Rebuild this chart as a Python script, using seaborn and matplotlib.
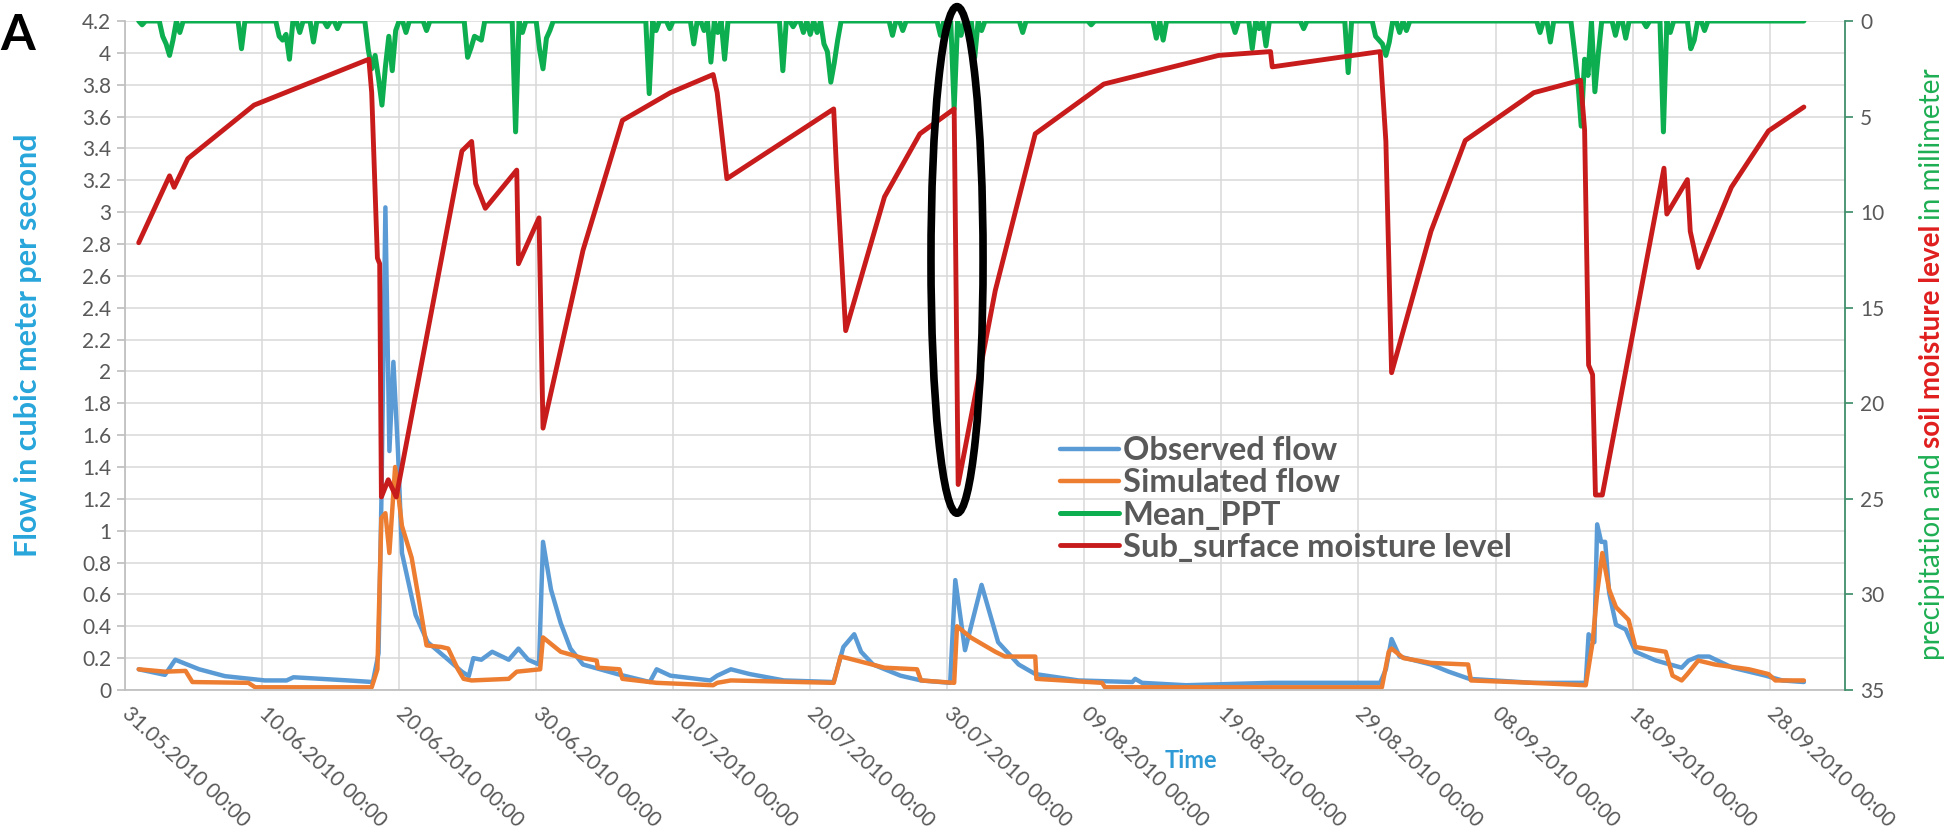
import matplotlib
matplotlib.use("Agg")
import matplotlib.pyplot as plt
import matplotlib.dates as mdates
import matplotlib.transforms as mtransforms
from matplotlib.patches import Ellipse
import pandas as pd
import seaborn as sns

# Observed flow (m3/s)
obs_times = [
    "2010-06-01 00:00", "2010-06-02 22:00", "2010-06-03 16:00", "2010-06-05 10:00", "2010-06-07 07:00",
    "2010-06-10 05:00", "2010-06-11 19:00", "2010-06-12 07:00", "2010-06-16 07:00", "2010-06-18 02:00",
    "2010-06-18 12:00", "2010-06-18 17:00", "2010-06-19 00:00", "2010-06-19 07:00", "2010-06-19 14:00",
    "2010-06-19 22:00", "2010-06-20 05:00", "2010-06-21 05:00", "2010-06-22 02:00", "2010-06-23 14:00",
    "2010-06-24 14:00", "2010-06-25 02:00", "2010-06-25 10:00", "2010-06-26 00:00", "2010-06-26 19:00",
    "2010-06-28 00:00", "2010-06-28 17:00", "2010-06-29 10:00", "2010-06-30 05:00", "2010-06-30 12:00",
    "2010-07-01 02:00", "2010-07-01 19:00", "2010-07-02 12:00", "2010-07-03 10:00", "2010-07-05 22:00",
    "2010-07-08 07:00", "2010-07-08 19:00", "2010-07-09 19:00", "2010-07-12 17:00", "2010-07-13 05:00",
    "2010-07-14 05:00", "2010-07-15 14:00", "2010-07-18 02:00", "2010-07-21 17:00", "2010-07-22 10:00",
    "2010-07-23 05:00", "2010-07-23 17:00", "2010-07-24 14:00", "2010-07-26 14:00", "2010-07-28 02:00",
    "2010-07-30 05:00", "2010-07-30 14:00", "2010-07-31 07:00", "2010-08-01 12:00", "2010-08-02 17:00",
    "2010-08-04 05:00", "2010-08-05 10:00", "2010-08-08 14:00", "2010-08-12 12:00", "2010-08-12 17:00",
    "2010-08-13 05:00", "2010-08-16 10:00", "2010-08-22 17:00", "2010-08-30 14:00", "2010-08-31 00:00",
    "2010-08-31 10:00", "2010-09-01 00:00", "2010-09-03 07:00", "2010-09-04 14:00", "2010-09-06 02:00",
    "2010-09-10 17:00", "2010-09-14 14:00", "2010-09-14 19:00", "2010-09-15 05:00", "2010-09-15 10:00",
    "2010-09-15 17:00", "2010-09-16 00:00", "2010-09-16 07:00", "2010-09-16 19:00", "2010-09-17 12:00",
    "2010-09-18 05:00", "2010-09-19 17:00", "2010-09-21 14:00", "2010-09-22 02:00", "2010-09-22 19:00",
    "2010-09-23 14:00", "2010-09-25 07:00", "2010-09-27 17:00", "2010-09-28 22:00", "2010-09-30 12:00",
]
obs_flow = [
    0.13, 0.095, 0.19, 0.13, 0.087,
    0.06, 0.06, 0.08, 0.06, 0.05,
    0.23, 1.19, 3.03, 1.50, 2.06,
    1.50, 0.86, 0.47, 0.30, 0.19,
    0.115, 0.087, 0.20, 0.19, 0.24,
    0.19, 0.26, 0.19, 0.16, 0.93,
    0.63, 0.42, 0.26, 0.16, 0.10,
    0.05, 0.13, 0.09, 0.06, 0.09,
    0.13, 0.10, 0.06, 0.05, 0.27,
    0.35, 0.24, 0.16, 0.09, 0.06,
    0.045, 0.69, 0.25, 0.66, 0.30,
    0.16, 0.10, 0.06, 0.05, 0.07,
    0.045, 0.03, 0.045, 0.045, 0.13,
    0.32, 0.21, 0.16, 0.115, 0.07,
    0.045, 0.045, 0.35, 0.30, 1.04,
    0.93, 0.93, 0.61, 0.41, 0.38,
    0.24, 0.185, 0.14, 0.185, 0.21,
    0.21, 0.14, 0.09, 0.06, 0.05,
]

# Simulated flow (m3/s)
sim_times = [
    "2010-06-01 00:00", "2010-06-02 22:00", "2010-06-04 10:00", "2010-06-04 22:00", "2010-06-09 00:00",
    "2010-06-09 12:00", "2010-06-18 00:00", "2010-06-18 10:00", "2010-06-18 17:00", "2010-06-19 00:00",
    "2010-06-19 07:00", "2010-06-19 17:00", "2010-06-20 05:00", "2010-06-20 22:00", "2010-06-21 10:00",
    "2010-06-22 00:00", "2010-06-23 02:00", "2010-06-23 14:00", "2010-06-24 07:00", "2010-06-24 17:00",
    "2010-06-25 07:00", "2010-06-28 00:00", "2010-06-28 14:00", "2010-06-30 07:00", "2010-06-30 12:00",
    "2010-07-01 19:00", "2010-07-03 10:00", "2010-07-04 10:00", "2010-07-04 12:00", "2010-07-06 02:00",
    "2010-07-06 07:00", "2010-07-08 19:00", "2010-07-12 22:00", "2010-07-13 05:00", "2010-07-14 05:00",
    "2010-07-21 17:00", "2010-07-22 05:00", "2010-07-22 17:00", "2010-07-25 10:00", "2010-07-27 19:00",
    "2010-07-28 02:00", "2010-07-30 12:00", "2010-07-30 17:00", "2010-07-31 17:00", "2010-08-02 12:00",
    "2010-08-03 05:00", "2010-08-05 10:00", "2010-08-05 12:00", "2010-08-10 07:00", "2010-08-10 12:00",
    "2010-08-30 17:00", "2010-08-31 05:00", "2010-08-31 10:00", "2010-09-01 07:00", "2010-09-03 07:00",
    "2010-09-06 00:00", "2010-09-06 05:00", "2010-09-10 17:00", "2010-09-14 14:00", "2010-09-15 02:00",
    "2010-09-15 10:00", "2010-09-15 19:00", "2010-09-16 07:00", "2010-09-16 19:00", "2010-09-17 17:00",
    "2010-09-18 05:00", "2010-09-20 10:00", "2010-09-20 22:00", "2010-09-21 14:00", "2010-09-22 00:00",
    "2010-09-22 19:00", "2010-09-24 00:00", "2010-09-26 12:00", "2010-09-27 22:00", "2010-09-28 10:00",
    "2010-09-30 12:00",
]
sim_flow = [
    0.13, 0.115, 0.12, 0.05, 0.045,
    0.017, 0.017, 0.13, 1.08, 1.11,
    0.86, 1.40, 1.03, 0.83, 0.58,
    0.28, 0.27, 0.26, 0.13, 0.07,
    0.06, 0.07, 0.115, 0.13, 0.33,
    0.24, 0.20, 0.185, 0.14, 0.13,
    0.07, 0.045, 0.03, 0.045, 0.06,
    0.045, 0.21, 0.20, 0.14, 0.13,
    0.06, 0.045, 0.40, 0.33, 0.24,
    0.21, 0.21, 0.07, 0.045, 0.017,
    0.017, 0.24, 0.26, 0.20, 0.17,
    0.16, 0.06, 0.045, 0.03, 0.30,
    0.61, 0.86, 0.63, 0.52, 0.44,
    0.27, 0.24, 0.09, 0.06, 0.10,
    0.185, 0.16, 0.13, 0.10, 0.06,
    0.06,
]

# Mean precipitation (mm), 6-hourly steps with rain; all other steps are dry
ppt_times = [
    "2010-06-01 06:00", "2010-06-02 18:00", "2010-06-03 00:00", "2010-06-03 06:00", "2010-06-03 12:00",
    "2010-06-04 00:00", "2010-06-08 12:00", "2010-06-11 06:00", "2010-06-11 12:00", "2010-06-11 18:00",
    "2010-06-12 00:00", "2010-06-12 18:00", "2010-06-13 18:00", "2010-06-14 18:00", "2010-06-15 12:00",
    "2010-06-17 18:00", "2010-06-18 00:00", "2010-06-18 06:00", "2010-06-18 12:00", "2010-06-18 18:00",
    "2010-06-19 00:00", "2010-06-19 06:00", "2010-06-19 12:00", "2010-06-19 18:00", "2010-06-20 12:00",
    "2010-06-22 00:00", "2010-06-25 00:00", "2010-06-25 06:00", "2010-06-25 12:00", "2010-06-25 18:00",
    "2010-06-26 00:00", "2010-06-28 12:00", "2010-06-29 00:00", "2010-06-30 06:00", "2010-06-30 12:00",
    "2010-06-30 18:00", "2010-07-01 00:00", "2010-07-08 06:00", "2010-07-08 18:00", "2010-07-09 18:00",
    "2010-07-11 12:00", "2010-07-12 06:00", "2010-07-12 18:00", "2010-07-13 06:00", "2010-07-13 18:00",
    "2010-07-18 00:00", "2010-07-18 18:00", "2010-07-19 12:00", "2010-07-20 00:00", "2010-07-20 12:00",
    "2010-07-21 00:00", "2010-07-21 06:00", "2010-07-21 12:00", "2010-07-21 18:00", "2010-07-22 00:00",
    "2010-07-26 00:00", "2010-07-26 18:00", "2010-07-29 12:00", "2010-07-30 12:00", "2010-07-31 00:00",
    "2010-08-01 00:00", "2010-08-01 12:00", "2010-08-04 12:00", "2010-08-09 12:00", "2010-08-14 06:00",
    "2010-08-14 18:00", "2010-08-20 00:00", "2010-08-21 06:00", "2010-08-21 18:00", "2010-08-22 06:00",
    "2010-08-25 00:00", "2010-08-28 06:00", "2010-08-30 06:00", "2010-08-30 12:00", "2010-08-30 18:00",
    "2010-08-31 00:00", "2010-08-31 06:00", "2010-09-01 00:00", "2010-09-01 12:00", "2010-09-11 06:00",
    "2010-09-12 00:00", "2010-09-13 18:00", "2010-09-14 00:00", "2010-09-14 06:00", "2010-09-14 12:00",
    "2010-09-14 18:00", "2010-09-15 06:00", "2010-09-15 12:00", "2010-09-16 18:00", "2010-09-17 12:00",
    "2010-09-19 00:00", "2010-09-20 06:00", "2010-09-20 18:00", "2010-09-22 06:00", "2010-09-22 12:00",
    "2010-09-23 06:00",
]
ppt_mm = [
    0.2, 0.8, 1.2, 1.8, 1.0,
    0.6, 1.45, 0.8, 1.0, 0.7,
    2.0, 0.6, 1.1, 0.3, 0.4,
    1.5, 2.5, 1.8, 3.0, 4.4,
    2.4, 0.8, 2.6, 0.5, 0.6,
    0.5, 1.9, 1.4, 0.8, 0.9,
    1.0, 5.8, 0.6, 1.5, 2.5,
    0.9, 0.5, 3.8, 0.5, 0.4,
    1.2, 0.5, 2.15, 0.6, 2.0,
    2.6, 0.3, 0.6, 0.7, 0.6,
    1.2, 1.6, 3.2, 2.2, 1.0,
    0.75, 0.5, 0.75, 4.6, 0.75,
    1.9, 0.5, 0.6, 0.2, 0.9,
    1.0, 0.6, 1.45, 0.4, 1.3,
    0.4, 2.7, 0.8, 1.0, 1.2,
    1.8, 1.1, 0.6, 0.5, 0.6,
    1.1, 1.5, 3.1, 5.5, 2.0,
    2.85, 3.7, 1.7, 0.75, 0.9,
    0.3, 5.8, 0.6, 1.45, 1.0,
    0.5,
]
ppt_start, ppt_end = "2010-06-01 00:00", "2010-09-30 12:00"

# Sub-surface moisture level (mm)
moist_times = [
    "2010-06-01 00:00", "2010-06-03 06:00", "2010-06-03 14:00", "2010-06-04 14:00", "2010-06-09 10:00",
    "2010-06-17 19:00", "2010-06-18 00:00", "2010-06-18 10:00", "2010-06-18 14:00", "2010-06-18 17:00",
    "2010-06-19 05:00", "2010-06-19 19:00", "2010-06-24 14:00", "2010-06-25 07:00", "2010-06-25 14:00",
    "2010-06-26 07:00", "2010-06-28 14:00", "2010-06-28 17:00", "2010-06-30 05:00", "2010-06-30 12:00",
    "2010-07-03 10:00", "2010-07-06 07:00", "2010-07-09 19:00", "2010-07-12 22:00", "2010-07-13 05:00",
    "2010-07-13 22:00", "2010-07-21 17:00", "2010-07-21 22:00", "2010-07-22 14:00", "2010-07-25 10:00",
    "2010-07-28 00:00", "2010-07-30 12:00", "2010-07-30 19:00", "2010-08-02 12:00", "2010-08-05 10:00",
    "2010-08-10 10:00", "2010-08-18 19:00", "2010-08-22 14:00", "2010-08-22 17:00", "2010-08-30 14:00",
    "2010-08-31 00:00", "2010-08-31 10:00", "2010-09-03 07:00", "2010-09-05 19:00", "2010-09-10 19:00",
    "2010-09-14 05:00", "2010-09-14 12:00", "2010-09-14 19:00", "2010-09-15 02:00", "2010-09-15 07:00",
    "2010-09-15 19:00", "2010-09-20 07:00", "2010-09-20 12:00", "2010-09-22 00:00", "2010-09-22 05:00",
    "2010-09-22 19:00", "2010-09-25 05:00", "2010-09-27 22:00", "2010-09-30 12:00",
]
moist_mm = [
    11.6, 8.1, 8.7, 7.2, 4.4,
    2.0, 3.75, 12.4, 12.7, 24.9,
    24.0, 24.9, 6.8, 6.3, 8.5,
    9.8, 7.8, 12.7, 10.3, 21.3,
    12.0, 5.2, 3.75, 2.8, 3.75,
    8.25, 4.6, 7.75, 16.2, 9.2,
    5.9, 4.6, 24.25, 14.1, 5.9,
    3.3, 1.8, 1.6, 2.4, 1.6,
    6.3, 18.4, 11.0, 6.25, 3.75,
    3.1, 5.7, 18.0, 18.5, 24.8,
    24.8, 7.7, 10.1, 8.3, 11.0,
    12.9, 8.7, 5.75, 4.5,
]

x_ticks = pd.date_range("2010-05-31", "2010-09-28", freq="10D")
flow_ticks = [round(0.2 * i, 1) for i in range(22)]
mm_ticks = [0, 5, 10, 15, 20, 25, 30, 35]
highlight_time = "2010-07-30 17:00"

OBS_C, SIM_C, PPT_C, RED_C = "#5B9BD5", "#ED7D31", "#0DAE50", "#C81C1C"
TEXT_C, GRID_C, AXIS_C, RAXIS_C = "#595959", "#D9D9D9", "#BFBFBF", "#3F8F6A"

sns.set_theme(style="white")
plt.rcParams["font.family"] = ["Lato", "DejaVu Sans"]

W, H = 1957, 834
fig = plt.figure(figsize=(W / 100, H / 100), dpi=100)
ax = fig.add_axes([125 / W, 1 - 690 / H, (1845 - 125) / W, (690 - 21) / H])
ax2 = ax.twinx()

obs = pd.DataFrame({"time": pd.to_datetime(obs_times), "flow": obs_flow})
sim = pd.DataFrame({"time": pd.to_datetime(sim_times), "flow": sim_flow})
ppt = pd.Series(0.0, index=pd.date_range(ppt_start, ppt_end, freq="6h"))
ppt[pd.to_datetime(ppt_times)] = ppt_mm
ppt = ppt.rename_axis("time").reset_index(name="mm")
moist = pd.DataFrame({"time": pd.to_datetime(moist_times), "mm": moist_mm})

sns.lineplot(data=obs, x="time", y="flow", ax=ax, color=OBS_C, lw=3.2, sort=False)
h_obs = ax.lines[-1]
sns.lineplot(data=sim, x="time", y="flow", ax=ax, color=SIM_C, lw=3.2, sort=False)
h_sim = ax.lines[-1]
sns.lineplot(data=ppt, x="time", y="mm", ax=ax2, color=PPT_C, lw=3.6, sort=False)
h_ppt = ax2.lines[-1]
sns.lineplot(data=moist, x="time", y="mm", ax=ax2, color=RED_C, lw=3.5, sort=False)
h_red = ax2.lines[-1]

ax.set_xlim(pd.Timestamp("2010-05-31"), pd.Timestamp("2010-10-03 12:00"))
ax.set_ylim(0, 4.2)
ax2.set_ylim(35, 0)

ax.set_xticks(x_ticks)
ax.xaxis.set_major_formatter(mdates.DateFormatter("%d.%m.%Y %H:%M"))
ax.set_yticks(flow_ticks)
ax.set_yticklabels([f"{v:g}" for v in flow_ticks])
ax2.set_yticks(mm_ticks)
ax.set_xlabel("")
ax.set_ylabel("")
ax2.set_ylabel("")

ax.grid(True, color=GRID_C, lw=1.1)
ax2.grid(False)
for s in ["top", "right"]:
    ax.spines[s].set_visible(False)
for s in ["top", "left", "bottom"]:
    ax2.spines[s].set_visible(False)
ax.spines["left"].set_color(AXIS_C)
ax.spines["bottom"].set_color(AXIS_C)
ax2.spines["right"].set_color(RAXIS_C)
ax2.spines["right"].set_linewidth(1.3)

ax.tick_params(axis="y", left=True, length=6, color=AXIS_C, labelcolor=TEXT_C, labelsize=15, pad=4)
ax.tick_params(axis="x", bottom=False, labelcolor=TEXT_C, labelsize=15, pad=9)
ax2.tick_params(axis="y", right=True, length=6, color=RAXIS_C, labelcolor=TEXT_C, labelsize=15, pad=5)
for lab in ax.get_xticklabels():
    lab.set_rotation(-43)
    lab.set_ha("left")
    lab.set_va("center")
    lab.set_rotation_mode("anchor")

# highlighted event
ell = Ellipse((mdates.date2num(pd.Timestamp(highlight_time)), 2.70), width=3.8, height=3.18,
              fill=False, ec="black", lw=5.5, transform=ax.transData, clip_on=False, zorder=10)
ax2.add_patch(ell)

ax2.legend([h_obs, h_sim, h_ppt, h_red],
           ["Observed flow", "Simulated flow", "Mean_PPT", "Sub_surface moisture level"],
           loc="upper left", bbox_to_anchor=(1060 / W, 1 - 436 / H), bbox_transform=fig.transFigure,
           frameon=False, prop={"weight": "bold", "size": 23.5}, labelcolor=TEXT_C,
           handlelength=1.8, handletextpad=0.12, labelspacing=0.1, borderpad=0, borderaxespad=0)

fig.text(0.0, 1 - 35 / H, "A", fontsize=36, fontweight="bold", color="black", ha="left", va="center")
fig.text(1191 / W, 1 - 760 / H, "Time", fontsize=17, fontweight="bold", color="#2E9BD6",
         ha="center", va="center")
fig.text(28 / W, 1 - 345 / H, "Flow in cubic meter per second", rotation=90, fontsize=22,
         fontweight="bold", color="#27A5DA", ha="center", va="center")

# right axis title with coloured parts
fig.canvas.draw()
renderer = fig.canvas.get_renderer()
x_base, y_pos = 1940, H - 660
gap = 5
for part, col, weight in [("precipitation and", "#1DAE52", "normal"),
                          ("soil moisture level", "#E01E1E", "bold"),
                          ("in millimeter", "#1DAE52", "normal")]:
    t = fig.text(x_base, y_pos, part, transform=mtransforms.IdentityTransform(), rotation=90,
                 rotation_mode="anchor", ha="left", va="baseline", fontsize=20, color=col,
                 fontweight=weight)
    y_pos += t.get_window_extent(renderer).height + gap

fig.savefig("out.png", dpi=100)
